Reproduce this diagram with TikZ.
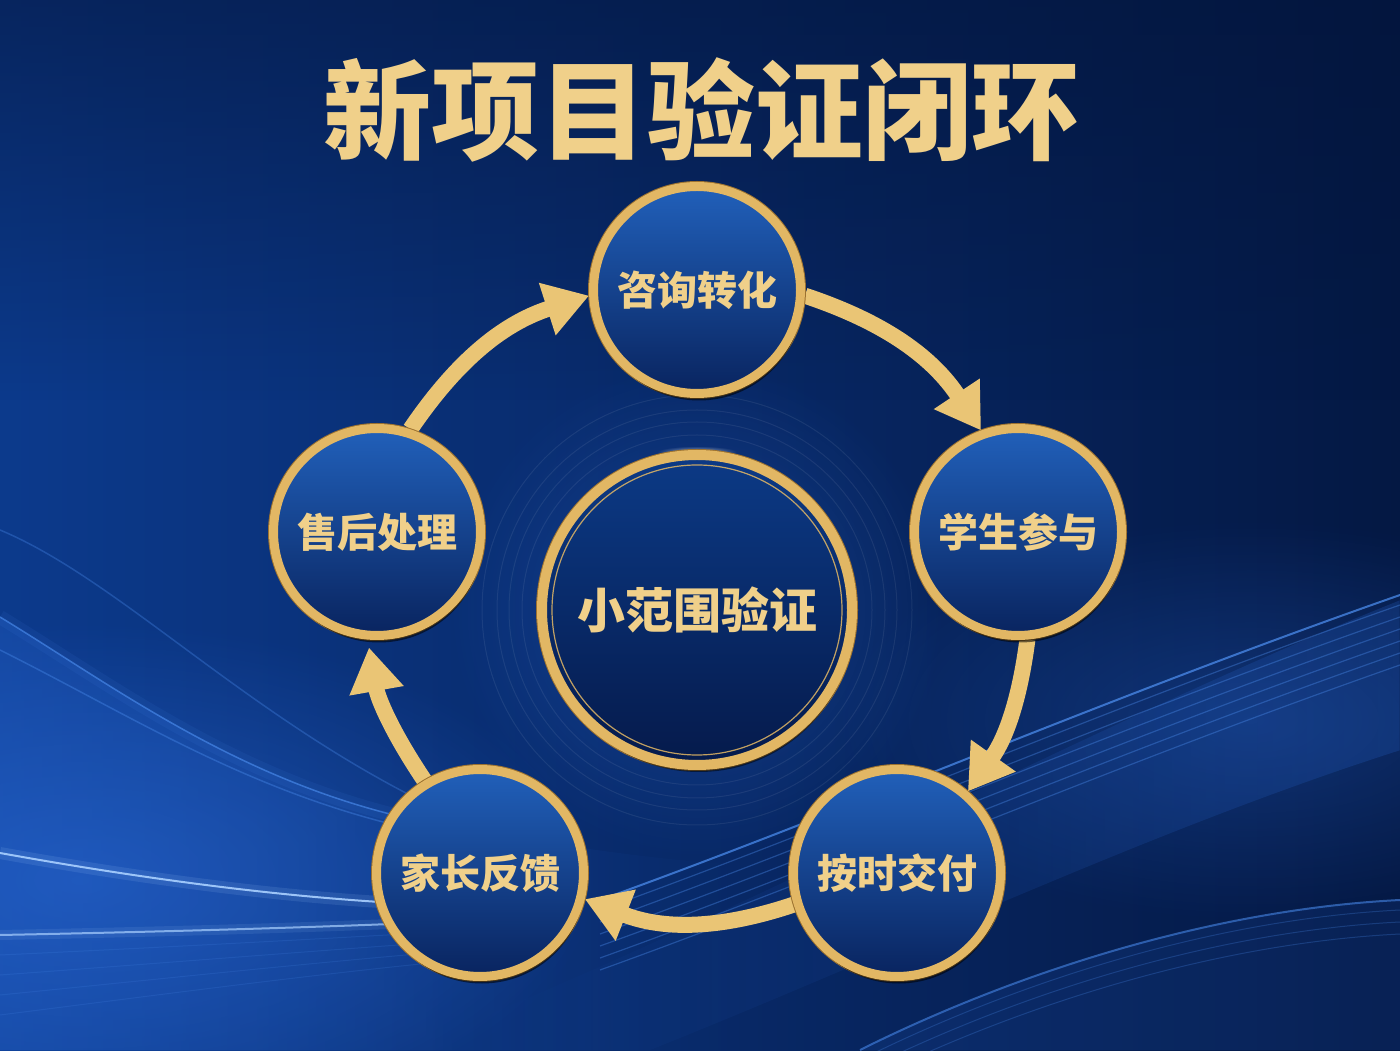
\documentclass[tikz,border=0pt]{standalone}
\usepackage{fontspec}
\newfontfamily\cjk{Noto Sans CJK SC}
\usetikzlibrary{arrows.meta,shadows,fadings}
\definecolor{bgL}{HTML}{0C3A8C}
\definecolor{bgR}{HTML}{041843}
\definecolor{bgTop}{HTML}{03143A}
\definecolor{glowB}{HTML}{2A6AD8}
\definecolor{waveB}{HTML}{4F92F5}
\definecolor{streak}{HTML}{A9D0FF}
\definecolor{ring}{HTML}{E2B764}
\definecolor{ringdark}{HTML}{9C7230}
\definecolor{goldtxt}{HTML}{F0D08A}
\definecolor{arrowgold}{HTML}{EAC575}
\definecolor{nodeTop}{HTML}{2160BA}
\definecolor{nodeBot}{HTML}{09245F}
\definecolor{hubTop}{HTML}{0C3A86}
\definecolor{hubBot}{HTML}{051A4B}
\tikzfading[name=fadedown, top color=transparent!0, bottom color=transparent!100]
\tikzfading[name=fadetoright, left color=transparent!0, right color=transparent!100]
\tikzfading[name=fadetoleft, left color=transparent!100, right color=transparent!0]
\tikzfading[name=glowfade, inner color=transparent!0, outer color=transparent!100]
\pgfdeclarelayer{back}
\pgfsetlayers{back,main}
\tikzset{
  stage/.style={circle, minimum size=207pt, inner sep=0pt, draw=ring, line width=9pt,
    top color=nodeTop, bottom color=nodeBot, text=goldtxt,
    font=\cjk\bfseries\fontsize{40}{40}\selectfont,
    preaction={draw=ringdark, line width=11pt},
    drop shadow={shadow xshift=2pt, shadow yshift=-7pt, opacity=.55, fill=black}},
  hub/.style={circle, minimum size=310pt, inner sep=0pt, draw=ring, line width=10pt,
    top color=hubTop, bottom color=hubBot, text=goldtxt,
    font=\cjk\bfseries\fontsize{48}{48}\selectfont,
    preaction={draw=ringdark, line width=12pt},
    drop shadow={shadow xshift=2pt, shadow yshift=-7pt, opacity=.5, fill=black}},
  flow/.style={draw=arrowgold, line width=16pt, -{Triangle[width=52pt,length=44pt]}},
  wave/.style={draw=waveB, line width=1.5pt, opacity=.55},
  glowline/.style={draw=streak, line width=2pt, opacity=.9},
}
\begin{document}
\begin{tikzpicture}[x=1pt,y=1pt]
\useasboundingbox (0,0) rectangle (1400,1050);
\begin{pgfonlayer}{back}
% background
\shade[left color=bgL, right color=bgR] (0,0) rectangle (1400,1050);
\fill[bgTop, path fading=fadedown, fill opacity=.55] (0,650) rectangle (1400,1050);
\fill[glowB, path fading=glowfade, fill opacity=.55] (80,170) ellipse (520pt and 260pt);
\fill[glowB, path fading=glowfade, fill opacity=.3] (1250,330) ellipse (420pt and 200pt);
% left waves
\fill[glowB, fill opacity=.3, path fading=fadetoright] (0,433) .. controls (120,360) and (250,260) .. (440,225) .. controls (560,205) and (650,190) .. (750,185) -- (750,0) -- (0,0) -- cycle;
\draw[wave, line width=14pt, opacity=.08] (0,433) .. controls (120,360) and (250,260) .. (440,225);
\draw[wave, opacity=.6] (0,433) .. controls (120,360) and (250,260) .. (440,225);
\draw[wave, opacity=.35] (0,400) .. controls (140,330) and (260,250) .. (440,215);
\draw[wave, opacity=.3] (0,520) .. controls (120,470) and (250,330) .. (440,240);
\draw[streak, line width=12pt, opacity=.12] (0,197) .. controls (150,170) and (300,150) .. (440,145);
\draw[glowline] (0,197) .. controls (150,170) and (300,150) .. (440,145);
\draw[streak, line width=10pt, opacity=.1] (0,115) .. controls (150,118) and (300,122) .. (440,128);
\draw[glowline, opacity=.7] (0,115) .. controls (150,118) and (300,122) .. (440,128);
\foreach \d in {20,40,60,80}
  \draw[wave, opacity=.15, line width=1pt] (0,115-\d) .. controls (150,118-\d*.8) and (300,122-\d*.6) .. (440,128-\d*.5);
% right waves
\fill[glowB, fill opacity=.22, path fading=fadetoleft] (450,20) .. controls (750,140) and (1100,330) .. (1400,450) -- (1400,300) .. controls (1150,220) and (900,100) .. (650,0) -- (450,0) -- cycle;
\foreach \d in {0,12,24,36,48,60}
  \draw[wave, opacity=.35, line width=1.2pt] (600,140-\d) .. controls (850,230-\d) and (1100,340-\d) .. (1400,445-\d);
\draw[wave, opacity=.7, line width=2pt] (600,150) .. controls (850,240) and (1100,350) .. (1400,455);
\draw[wave, opacity=.55, line width=2pt] (860,0) .. controls (1000,70) and (1200,140) .. (1400,150);
\foreach \d in {10,22,34}
  \draw[wave, opacity=.25, line width=1pt] (860,-\d) .. controls (1000,70-\d) and (1200,140-\d) .. (1400,150-\d);
\fill[glowB, fill opacity=.12] (860,0) .. controls (1000,70) and (1200,140) .. (1400,150) -- (1400,0) -- cycle;
% hub glow
\fill[glowB, path fading=glowfade, fill opacity=.35] (697,440) circle (250pt);
\foreach \r in {175,188,200,215}
  \draw[white, opacity=.07, line width=1pt] (697,440) circle (\r pt);
\fill[white, path fading=glowfade, fill opacity=.6] (697,598) ellipse (40pt and 6pt);
\end{pgfonlayer}
% title
\node[text=goldtxt, font=\cjk\bfseries\fontsize{108}{108}\selectfont] (title) at (701,940) {新项目验证闭环};
% nodes
\node[hub] (C) at (697,440) {小范围验证};
\draw[ring, line width=1.2pt, opacity=.85] (C.center) circle (145pt);
\node[stage] (T) at (697,760) {咨询转化};
\node[stage] (R) at (1018,518) {学生参与};
\node[stage] (BR) at (897,177) {按时交付};
\node[stage] (BL) at (480,177) {家长反馈};
\node[stage] (L) at (377,518) {售后处理};
% arrows
\begin{pgfonlayer}{back}
\draw[flow] (T.-3) to[bend left=19] (R.110);
\draw[flow] (R.-85) to[bend left=14] (BR.49);
\draw[flow] (BR.197) to[bend left=20] (BL.-14);
\draw[flow, shorten >=8pt] (BL.121) to[bend left=12] (L.-95);
\draw[flow] (L.72) to[bend left=19] (T.183);
\end{pgfonlayer}
\end{tikzpicture}
\end{document}
